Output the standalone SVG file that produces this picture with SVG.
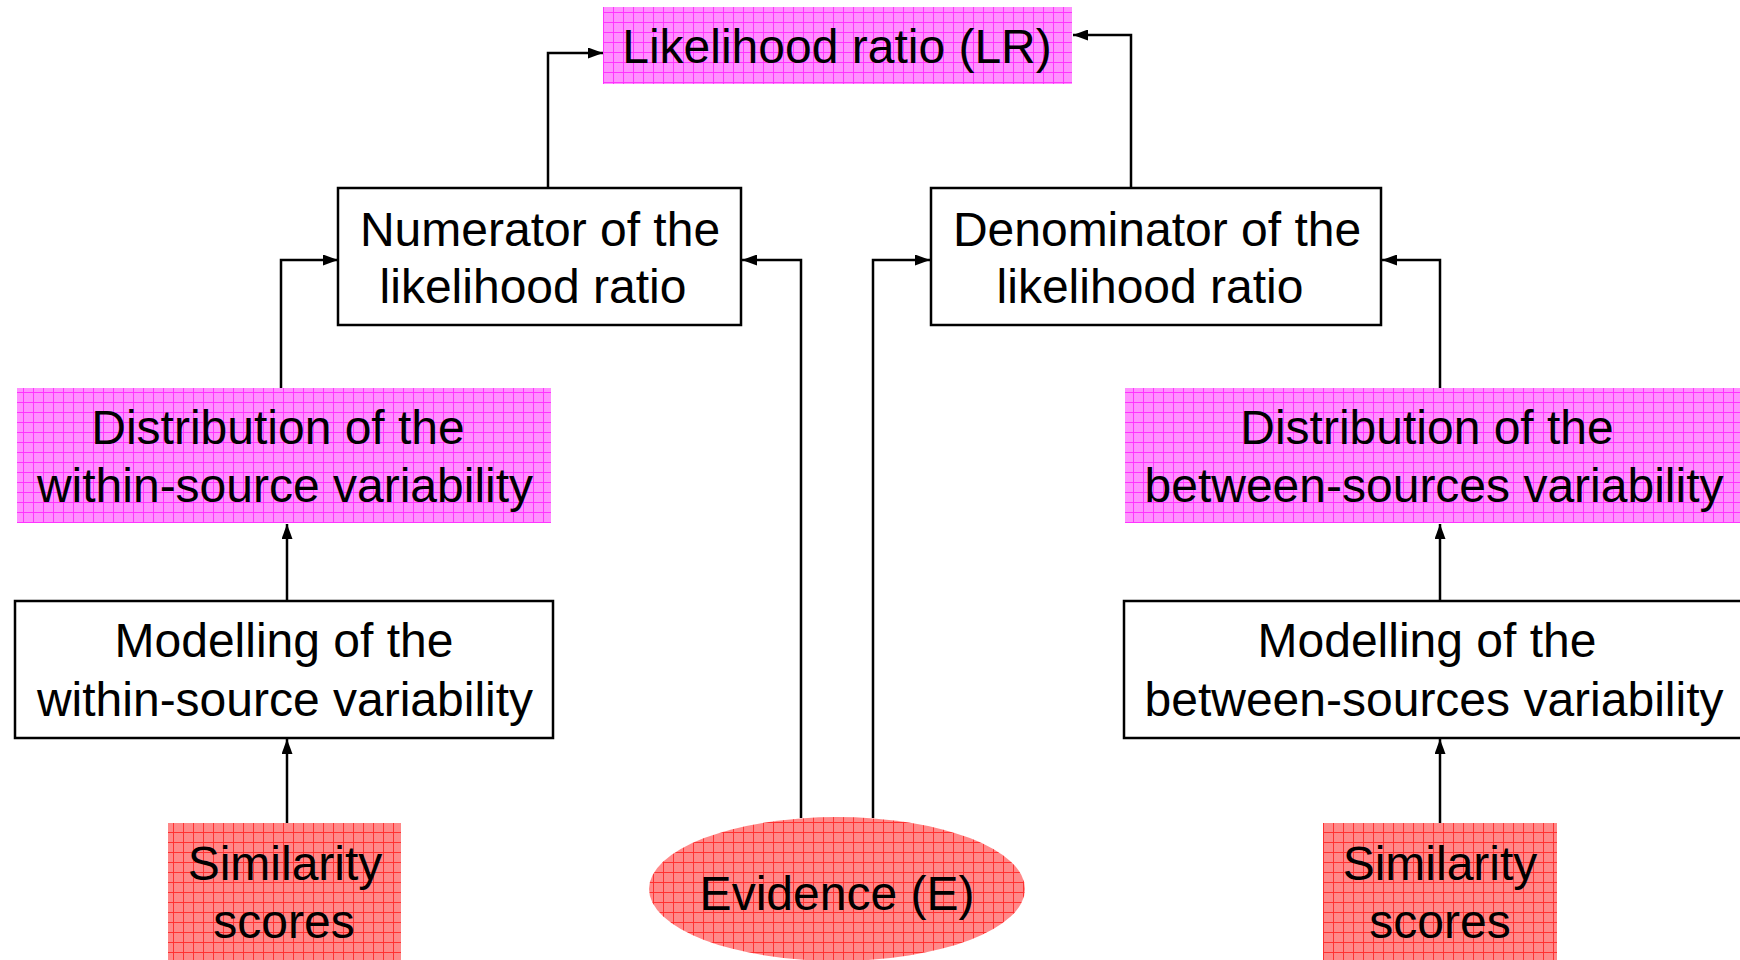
<svg xmlns="http://www.w3.org/2000/svg" width="1740" height="960" viewBox="0 0 1740 960">
  <style>
    .lbl { font-family: "Liberation Sans", Arial, sans-serif; font-size: 48px; fill: #000; text-anchor: middle; }
    .box { fill: #fff; stroke: #000; stroke-width: 2.5; }
    .mag { fill: url(#gridMagenta); }
    .red { fill: url(#gridRed); }
    .wire { fill: none; stroke: #000; stroke-width: 2.5; marker-end: url(#arrow); }
  </style>
  <defs>
    <pattern id="gridMagenta" patternUnits="userSpaceOnUse" x="3" y="2" width="10" height="10">
      <rect width="10" height="10" fill="#ff90ff"/>
      <path d="M0,0.5 H10 M0.5,0 V10" stroke="#ff33ff" stroke-width="1"/>
    </pattern>
    <pattern id="gridRed" patternUnits="userSpaceOnUse" x="3" y="2" width="10" height="10">
      <rect width="10" height="10" fill="#ff8888"/>
      <path d="M0,0.5 H10 M0.5,0 V10" stroke="#ff3030" stroke-width="1"/>
    </pattern>
    <marker id="arrow" viewBox="0 0 15 11" refX="15" refY="5.5" markerWidth="15" markerHeight="11" markerUnits="userSpaceOnUse" orient="auto">
      <path d="M0,0 L15,5.5 L0,11 Z" fill="#000"/>
    </marker>
  </defs>

  <g id="connectors">
    <path class="wire" d="M548,188 V53 H603"/>
    <path class="wire" d="M1131,188 V35 H1073"/>
    <path class="wire" d="M281,388 V260 H338"/>
    <path class="wire" d="M801,818 V260 H742"/>
    <path class="wire" d="M873,818 V260 H930"/>
    <path class="wire" d="M1440,388 V260 H1382"/>
    <path class="wire" d="M287,600 V524"/>
    <path class="wire" d="M287,823 V739"/>
    <path class="wire" d="M1440,600 V524"/>
    <path class="wire" d="M1440,823 V739"/>
  </g>

  <g id="likelihood-ratio">
    <rect class="mag" x="603" y="7" width="469" height="77"/>
    <text class="lbl" x="837" y="63">Likelihood ratio (LR)</text>
  </g>

  <g id="numerator">
    <rect class="box" x="338" y="188" width="403" height="137"/>
    <text class="lbl" x="540" y="246">Numerator of the</text>
    <text class="lbl" x="533" y="303">likelihood ratio</text>
  </g>

  <g id="denominator">
    <rect class="box" x="931" y="188" width="450" height="137"/>
    <text class="lbl" x="1157" y="246">Denominator of the</text>
    <text class="lbl" x="1150" y="303">likelihood ratio</text>
  </g>

  <g id="distribution-within">
    <rect class="mag" x="17" y="388" width="534" height="135"/>
    <text class="lbl" x="278" y="444">Distribution of the</text>
    <text class="lbl" x="285" y="502">within-source variability</text>
  </g>

  <g id="distribution-between">
    <rect class="mag" x="1125" y="388" width="620" height="135"/>
    <text class="lbl" x="1427" y="444">Distribution of the</text>
    <text class="lbl" x="1434" y="502">between-sources variability</text>
  </g>

  <g id="modelling-within">
    <rect class="box" x="15" y="601" width="538" height="137"/>
    <text class="lbl" x="284" y="657">Modelling of the</text>
    <text class="lbl" x="285" y="716">within-source variability</text>
  </g>

  <g id="modelling-between">
    <rect class="box" x="1124" y="601" width="630" height="137"/>
    <text class="lbl" x="1427" y="657">Modelling of the</text>
    <text class="lbl" x="1434" y="716">between-sources variability</text>
  </g>

  <g id="similarity-left">
    <rect class="red" x="168" y="823" width="233" height="140"/>
    <text class="lbl" x="285" y="880">Similarity</text>
    <text class="lbl" x="284" y="938">scores</text>
  </g>

  <g id="evidence">
    <ellipse class="red" cx="837" cy="889" rx="188" ry="72"/>
    <text class="lbl" x="837" y="910">Evidence (E)</text>
  </g>

  <g id="similarity-right">
    <rect class="red" x="1323" y="823" width="234" height="140"/>
    <text class="lbl" x="1440" y="880">Similarity</text>
    <text class="lbl" x="1440" y="938">scores</text>
  </g>
</svg>
